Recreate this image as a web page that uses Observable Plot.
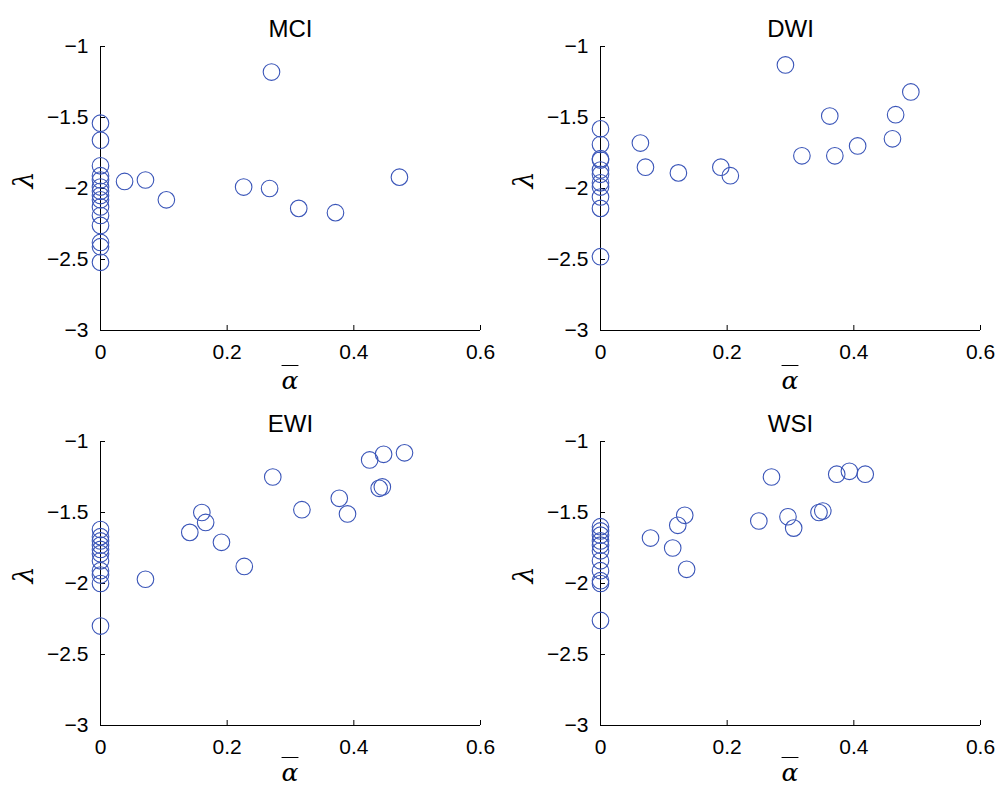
<!DOCTYPE html>
<html>
<head>
<meta charset="utf-8">
<script src="https://cdn.jsdelivr.net/npm/d3@7"></script>
<script src="https://cdn.jsdelivr.net/npm/@observablehq/plot@0.6"></script>
<style>
  html, body { margin: 0; padding: 0; background: #fff; overflow: hidden; }
  #wrap { position: relative; width: 1003px; height: 789px; font-family: "Liberation Sans", Arial, sans-serif; }
  .panel { position: absolute; }
  .alab { position: absolute; font-family: "DejaVu Serif", "Liberation Serif", serif; font-style: italic; font-size: 25px; text-decoration: overline; text-decoration-thickness: 1px; padding: 0 4px; line-height: 0.92; color: #000; }
</style>
</head>
<body>
<div id="wrap"></div>
<script>
// ---- data ----
const xTicks = [0, 0.2, 0.4, 0.6];
const yTicks = [-3, -2.5, -2, -1.5, -1];
const panelNames = ["MCI", "DWI", "EWI", "WSI"];

const mciX = [0,0,0,0,0,0,0,0,0,0,0,0,0,0,0, 0.038,0.071,0.104,0.226,0.267,0.270,0.313,0.371,0.472];
const mciY = [-1.54,-1.66,-1.84,-1.91,-1.94,-1.99,-2.02,-2.05,-2.08,-2.13,-2.19,-2.26,-2.38,-2.41,-2.52,
              -1.95,-1.94,-2.08,-1.99,-2.00,-1.18,-2.14,-2.17,-1.92];

const dwiX = [0,0,0,0,0,0,0,0,0,0,0, 0.063,0.071,0.123,0.190,0.205,0.292,0.318,0.370,0.362,0.406,0.461,0.466,0.490];
const dwiY = [-1.58,-1.69,-1.79,-1.80,-1.87,-1.90,-1.96,-1.99,-2.06,-2.14,-2.48,
              -1.68,-1.85,-1.89,-1.85,-1.91,-1.13,-1.77,-1.77,-1.49,-1.70,-1.65,-1.48,-1.32];

const ewiX = [0,0,0,0,0,0,0,0,0,0,0, 0.071,0.141,0.160,0.166,0.191,0.227,0.272,0.318,0.377,0.390,0.425,0.440,0.445,0.447,0.480];
const ewiY = [-1.62,-1.67,-1.70,-1.73,-1.76,-1.79,-1.84,-1.91,-1.94,-2.00,-2.30,
              -1.97,-1.64,-1.50,-1.57,-1.71,-1.88,-1.25,-1.48,-1.40,-1.51,-1.13,-1.33,-1.32,-1.09,-1.08];

const wsiX = [0,0,0,0,0,0,0,0,0,0,0, 0.079,0.114,0.122,0.133,0.136,0.250,0.270,0.296,0.305,0.345,0.351,0.373,0.393,0.418];
const wsiY = [-1.60,-1.63,-1.66,-1.70,-1.73,-1.77,-1.84,-1.91,-1.98,-2.00,-2.26,
              -1.68,-1.75,-1.59,-1.52,-1.90,-1.56,-1.25,-1.53,-1.61,-1.50,-1.49,-1.23,-1.21,-1.23];

const series = [[mciX, mciY], [dwiX, dwiY], [ewiX, ewiY], [wsiX, wsiY]];
const positions = [[0, 0], [500, 0], [0, 395], [500, 395]];

const fmt = d => (d < 0 ? "\u2212" : "") + String(Math.abs(d));
const wrap = document.getElementById("wrap");

series.forEach(([xs, ys], i) => {
  const pts = xs.map((x, j) => ({x, y: ys[j]}));
  const [left, top] = positions[i];
  const chart = Plot.plot({
    width: 503, height: 394,
    marginLeft: 100, marginRight: 23, marginTop: 46, marginBottom: 64,
    style: {fontFamily: "Liberation Sans, Arial, sans-serif", fontSize: "21px", color: "#000", background: "transparent"},
    x: {domain: [0, 0.6]},
    y: {domain: [-3, -1]},
    marks: [
      Plot.ruleX([0], {stroke: "#000", strokeWidth: 1}),
      Plot.ruleY([-3], {stroke: "#000", strokeWidth: 1}),
      Plot.axisX(xTicks, {tickSize: -5, tickPadding: 19, tickFormat: d => String(d), label: null, fontSize: 21, stroke: "#000"}),
      Plot.axisY(yTicks, {tickSize: -5, tickPadding: 17, tickFormat: fmt, label: null, fontSize: 21, stroke: "#000"}),
      Plot.dot(pts, {x: "x", y: "y", r: 8.3, stroke: "#3a55b8", strokeWidth: 1.1, fill: "none"}),
      Plot.text([panelNames[i]], {frameAnchor: "top", dy: -27, fontSize: 24, fill: "#000"}),
      Plot.text(["\u03bb"], {frameAnchor: "left", dx: -76, rotate: -90, fontSize: 27, fontStyle: "italic", fontFamily: "DejaVu Serif, serif", fill: "#000"})
    ]
  });
  chart.classList.add("panel");
  chart.style.left = left + "px";
  chart.style.top = top + "px";
  wrap.appendChild(chart);

  const lab = document.createElement("div");
  lab.className = "alab";
  lab.textContent = "\u03b1";
  wrap.appendChild(lab);
  const w = lab.getBoundingClientRect().width;
  lab.style.left = (left + 100 + 380 * (0.3 / 0.6) - w / 2) + "px";
  lab.style.top = (top + 369 - (i >= 2 ? 3 : 0)) + "px";
});
</script>
</body>
</html>
